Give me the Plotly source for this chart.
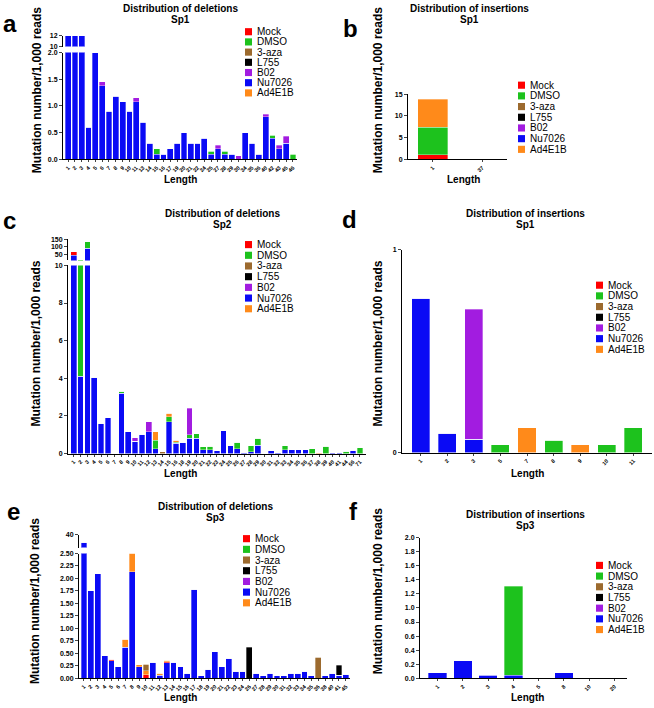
import plotly.graph_objects as go

# figure size in pixels
W, H = 654, 708
FONT = "Liberation Sans, Arial, sans-serif"

colors = {
    'Mock': '#FF0000',
    'DMSO': '#1DC21D',
    '3-aza': '#9C6A2E',
    'L755': '#000000',
    'B02': '#A21CE0',
    'Nu7026': '#0A0AF5',
    'Ad4E1B': '#FF8A1A',
}
legend_order = ['Mock', 'DMSO', '3-aza', 'L755', 'B02', 'Nu7026', 'Ad4E1B']
stack_order = ['Nu7026', 'Mock', 'DMSO', 'Ad4E1B', '3-aza', 'L755', 'B02']

# ---- panel a: deletions Sp1 ----
a_len = ['1', '2', '3', '4', '5', '6', '7', '8', '9', '10', '11', '13', '14', '15', '16', '17', '19',
         '20', '21', '22', '24', '25', '27', '28', '29', '30', '34', '35', '36', '40', '42', '43', '45', '46']
a_nu7026 = [12, 12, 12, 0.6, 2.0, 1.38, 0.9, 1.18, 1.08, 0.9, 1.08, 0.7, 0.3, 0.1, 0.1, 0.2, 0.3,
            0.5, 0.3, 0.3, 0.4, 0.1, 0.2, 0.1, 0.1, 0, 0.5, 0.3, 0.1, 0.8, 0.4, 0.2, 0.3, 0]
a_b02 = [0, 0, 0, 0, 0, 0.07, 0, 0, 0, 0, 0.07, 0, 0, 0, 0, 0, 0,
         0, 0, 0, 0, 0, 0.07, 0, 0, 0.07, 0, 0, 0, 0.05, 0, 0.07, 0.13, 0]
a_dmso = [0, 0, 0, 0, 0, 0, 0, 0, 0, 0, 0, 0, 0, 0.1, 0, 0, 0,
          0, 0, 0, 0, 0.05, 0, 0.05, 0, 0, 0, 0, 0, 0, 0.05, 0, 0, 0.1]

# ---- panel b: insertions Sp1 ----
b_len = ['1', '37']
b_mock = [1.1, 0]
b_dmso = [6.3, 0.1]
b_ad4e1b = [6.4, 0]

# ---- panel c: deletions Sp2 ----
c_len = [str(i) for i in range(1, 17)] + [str(i) for i in range(18, 42)] + ['44', '56', '71']
c_nu7026 = [45, 4.1, 90, 4.05, 1.6, 1.9, 0, 3.2, 1.15, 0.65,
            1.02, 1.15, 0.25, 0, 1.7, 0.55, 0.6, 0.8, 0.8, 0.2,
            0.2, 0.15, 1.2, 0.42, 0.25, 0.08, 0.1, 0.45, 0, 0.15,
            0.05, 0.2, 0.2, 0.2, 0.2, 0, 0, 0, 0.05, 0.08,
            0, 0.17, 0]
c_mock = [22] + [0] * 42
c_dmso = [0, 12, 45, 0, 0, 0, 0, 0.1, 0, 0,
          0, 0, 0.45, 0, 0.25, 0.05, 0, 0.2, 0.25, 0.15,
          0.18, 0, 0, 0, 0.35, 0, 0.3, 0.37, 0, 0,
          0, 0.2, 0, 0, 0, 0.25, 0, 0.38, 0, 0,
          0.12, 0, 0.3]
c_ad4e1b = [0, 0, 0, 0, 0, 0, 0, 0, 0, 0,
            0, 0, 0.45, 0, 0.2, 0.1, 0, 0, 0, 0,
            0, 0, 0, 0, 0, 0, 0, 0, 0, 0,
            0, 0, 0, 0, 0, 0, 0.05, 0, 0, 0,
            0, 0, 0]
c_3aza = [0] * 13 + [0.1] + [0] * 29
c_b02 = [0, 0, 0, 0, 0, 0, 0, 0, 0, 0.2,
         0, 0.55, 0, 0, 0, 0, 0, 1.4, 0, 0] + [0] * 23

# ---- panel d: insertions Sp1 ----
d_len = ['1', '2', '3', '5', '7', '8', '9', '10', '11']
d_nu7026 = [0.76, 0.094, 0.065, 0, 0, 0, 0, 0, 0]
d_b02 = [0, 0, 0.64, 0, 0, 0, 0, 0, 0]
d_dmso = [0, 0, 0, 0.039, 0, 0.06, 0, 0.039, 0.122]
d_ad4e1b = [0, 0, 0, 0, 0.122, 0, 0.039, 0, 0]

# ---- panel e: deletions Sp3 ----
e_len = [str(i) for i in range(1, 25)] + ['26', '27', '28', '29', '30', '31', '32', '33', '34',
                                          '35', '36', '38', '40', '41', '45']
e_nu7026 = [34, 1.75, 2.09, 0.45, 0.35, 0.23, 0.62, 2.13, 0.23, 0,
            0.32, 0.06, 0.31, 0.32, 0.23, 0.1, 1.78, 0.05, 0.18, 0.53,
            0.23, 0.4, 0.14, 0.14, 0, 0.1, 0.05, 0.1, 0.05, 0.05,
            0.1, 0.1, 0.14, 0.05, 0, 0.05, 0.1, 0.06, 0.08]
e_mock = [0, 0, 0, 0, 0.03, 0, 0, 0, 0, 0.07, 0, 0, 0.02] + [0] * 26
e_ad4e1b = [0, 0, 0, 0, 0, 0, 0.16, 0.38, 0.04, 0.08, 0, 0.04, 0.03] + [0] * 26
e_3aza = [0] * 9 + [0.13] + [0] * 24 + [0.42] + [0] * 4
e_l755 = [0] * 24 + [0.62] + [0] * 12 + [0.2, 0]

# ---- panel f: insertions Sp3 ----
f_len = ['1', '2', '3', '4', '5', '8', '10', '20']
f_nu7026 = [0.08, 0.25, 0.04, 0.04, 0, 0.08, 0, 0]
f_dmso = [0, 0, 0, 1.27, 0, 0, 0, 0]


def xd(p0, p1):
    return [p0 / W, p1 / W]


def yd(top, bottom):
    return [1 - bottom / H, 1 - top / H]


def x_axis(p0, p1, rng, anchor):
    return dict(domain=xd(p0, p1), range=rng, type='category', anchor=anchor,
                tickmode='linear', tick0=0, dtick=1,
                showline=True, linecolor='black', linewidth=1, ticks='outside',
                ticklen=2, tickwidth=1, tickangle=-45, showgrid=False, zeroline=False,
                tickfont=dict(size=5.5, family=FONT, color='black', weight='bold'))


def y_axis(top, bottom, rng, anchor, **kw):
    ax = dict(domain=yd(top, bottom), range=rng, anchor=anchor,
              showline=True, linecolor='black', linewidth=1, ticks='outside',
              ticklen=3, tickwidth=1, showgrid=False, zeroline=False,
              tickfont=dict(size=7, family=FONT, color='black', weight='bold'))
    ax.update(kw)
    return ax


fig = go.Figure()


def add_bars(labels, series, xa, ya, width):
    for name in stack_order:
        if name not in series:
            continue
        fig.add_trace(go.Bar(
            x=labels, y=series[name], name=name, width=width,
            marker=dict(color=colors[name], line=dict(color='rgba(255,255,255,0.55)', width=0.6)),
            xaxis=xa, yaxis=ya, showlegend=False,
        ))


a_series = {'Nu7026': a_nu7026, 'DMSO': a_dmso, 'B02': a_b02}
b_series = {'Mock': b_mock, 'DMSO': b_dmso, 'Ad4E1B': b_ad4e1b}
c_series = {'Nu7026': c_nu7026, 'Mock': c_mock, 'DMSO': c_dmso, 'Ad4E1B': c_ad4e1b,
            '3-aza': c_3aza, 'B02': c_b02}
d_series = {'Nu7026': d_nu7026, 'DMSO': d_dmso, 'Ad4E1B': d_ad4e1b, 'B02': d_b02}
e_series = {'Nu7026': e_nu7026, 'Mock': e_mock, 'Ad4E1B': e_ad4e1b, '3-aza': e_3aza, 'L755': e_l755}
f_series = {'Nu7026': f_nu7026, 'DMSO': f_dmso}

# lower parts and upper (broken axis) parts
add_bars(a_len, a_series, 'x', 'y', 0.85)
add_bars(a_len, a_series, 'x', 'y7', 0.85)
add_bars(b_len, b_series, 'x2', 'y2', 0.6)
add_bars(c_len, c_series, 'x3', 'y3', 0.83)
add_bars(c_len, c_series, 'x3', 'y8', 0.83)
add_bars(d_len, d_series, 'x4', 'y4', 0.68)
add_bars(e_len, e_series, 'x5', 'y5', 0.85)
add_bars(e_len, e_series, 'x5', 'y9', 0.85)
add_bars(f_len, f_series, 'x6', 'y6', 0.73)

fig.update_layout(
    width=W, height=H, barmode='stack',
    margin=dict(l=0, r=0, t=0, b=0),
    paper_bgcolor='white', plot_bgcolor='white',
    font=dict(family=FONT, color='black'),
    xaxis=x_axis(63, 297, [-0.75, 33.6], 'y'),
    yaxis=y_axis(49, 157, [0, 2.0], 'x', tickvals=[0, 0.5, 1.0, 1.5, 2.0], tickformat='.1f'),
    yaxis7=y_axis(32, 43, [10, 12], 'x', tickvals=[10, 12]),
    xaxis2=x_axis(408, 507, [-0.5, 1.5], 'y2'),
    yaxis2=y_axis(91, 157, [0, 15], 'x2', tickvals=[0, 5, 10, 15]),
    xaxis3=x_axis(68, 366, [-0.85, 42.9], 'y3'),
    yaxis3=y_axis(264, 454, [0, 10], 'x3', tickvals=[0, 2, 4, 6, 8, 10]),
    yaxis8=y_axis(237, 259, [10, 155], 'x3', tickvals=[50, 100, 150]),
    xaxis4=x_axis(402, 652, [-0.7, 8.7], 'y4'),
    yaxis4=y_axis(248, 453, [0, 1], 'x4', tickvals=[0, 1]),
    xaxis5=x_axis(79, 350, [-0.72, 38.6], 'y5'),
    yaxis5=y_axis(555, 681, [0, 2.5], 'x5', dtick=0.25, tickformat='.2f'),
    yaxis9=y_axis(536, 549, [30, 40], 'x5', tickvals=[40]),
    xaxis6=x_axis(420, 627, [-0.7, 7.5], 'y6'),
    yaxis6=y_axis(539, 681, [0, 2.0], 'x6', dtick=0.2, tickformat='.1f'),
)

annotations = []
shapes = []


def text(x, y, s, size, bold=True, angle=0, xanchor='center'):
    annotations.append(dict(
        x=x / W, y=1 - y / H, xref='paper', yref='paper', showarrow=False,
        text=f'<b>{s}</b>' if bold else s, textangle=angle,
        xanchor=xanchor, yanchor='middle',
        font=dict(size=size, family=FONT, color='black')))


def legend(sq_x, y0, step):
    for i, name in enumerate(legend_order):
        yy = y0 + i * step
        shapes.append(dict(type='rect', xref='paper', yref='paper',
                           x0=sq_x / W, x1=(sq_x + 7) / W,
                           y0=1 - (yy + 3.6) / H, y1=1 - (yy - 3.6) / H,
                           fillcolor=colors[name], line=dict(width=0)))
        text(sq_x + 10, yy, name, 10, bold=False, xanchor='left')


panels = [
    # letter, letter pos, title, title pos, ytitle pos, length pos, legend
    ('a', (10, 20), 'Distribution of deletions', 'Sp1', (180, 5), (37, 87), (180, 177), (245, 28, 10.3)),
    ('b', (350, 25), 'Distribution of insertions', 'Sp1', (470, 5), (378, 87), (463, 177), (518, 82, 10.8)),
    ('c', (9, 219), 'Distribution of deletions', 'Sp2', (222, 212), (36, 343), (180, 474), (245, 243, 10.8)),
    ('d', (349, 218), 'Distribution of insertions', 'Sp1', (525, 212), (378, 343), (527, 474), (596, 284, 10.8)),
    ('e', (13, 513), 'Distribution of deletions', 'Sp3', (215, 508), (35, 603), (180, 700), (243, 540, 10.8)),
    ('f', (353, 513), 'Distribution of insertions', 'Sp3', (525, 516), (378, 593), (527, 700), (596, 567, 10.8)),
]

for letter, lp, t1, t2, tp, yp, lenp, lg in panels:
    text(lp[0], lp[1], letter, 24)
    text(tp[0], tp[1], t1, 10)
    text(tp[0], tp[1] + 11, t2, 10)
    text(yp[0], yp[1], 'Mutation number/1,000 reads', 12, angle=-90)
    text(lenp[0], lenp[1], 'Length', 10)
    legend(*lg)

fig.update_layout(annotations=annotations, shapes=shapes)

# drop the page's default body margin so the figure sits at the window's corner
fig.write_html("out.html", config={'displayModeBar': False},
               post_script="document.body.style.margin='0';")
